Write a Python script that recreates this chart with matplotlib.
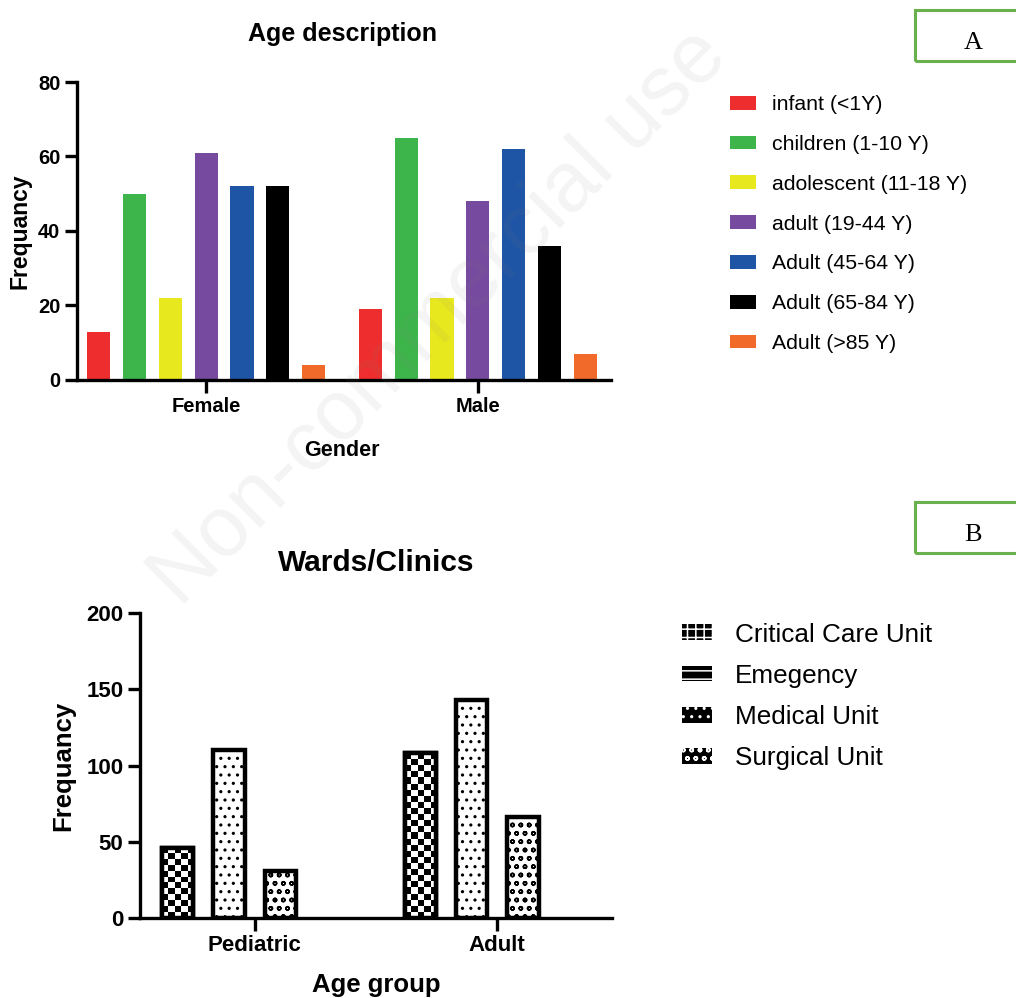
import matplotlib
import numpy as np

matplotlib.use("Agg")
import matplotlib.pyplot as plt  # noqa: E402
from matplotlib.patches import Patch, Rectangle  # noqa: E402

# Panel A: age description by gender
genders = ["Female", "Male"]
age_groups = [
    "infant (<1Y)",
    "children (1-10 Y)",
    "adolescent (11-18 Y)",
    "adult (19-44 Y)",
    "Adult (45-64 Y)",
    "Adult (65-84 Y)",
    "Adult (>85 Y)",
]
female_counts = [13, 50, 22, 61, 52, 52, 4]
male_counts = [19, 65, 22, 48, 62, 36, 7]
age_colors = ["#ee2e2e", "#3db54a", "#e8e81e", "#764a9e", "#1e55a5", "#000000", "#f26a2a"]

# Panel B: wards/clinics by age group
age_group_labels = ["Pediatric", "Adult"]
wards = ["Critical Care Unit", "Emegency", "Medical Unit", "Surgical Unit"]
pediatric_counts = [46, 0, 110, 31]
adult_counts = [108, 0, 143, 66]

FONT = "Liberation Sans"
plt.rcParams["font.family"] = [FONT, "DejaVu Sans"]
plt.rcParams["hatch.linewidth"] = 1.1

fig = plt.figure(figsize=(10.16, 9.98), dpi=100)
W, H = 1016, 998


def fx(px):
    return px / W


def fy(py):
    return 1 - py / H


def style_axes(ax, fs):
    for s in ("top", "right"):
        ax.spines[s].set_visible(False)
    for s in ("left", "bottom"):
        ax.spines[s].set_linewidth(2.4)
    ax.tick_params(axis="both", width=2.4, length=9, labelsize=fs, pad=3)
    for lab in ax.get_xticklabels() + ax.get_yticklabels():
        lab.set_fontweight("bold")


# ---------------- Panel A ----------------
axA = fig.add_axes([fx(77), fy(380), fx(611) - fx(77), fy(82) - fy(380)])
group_x = np.arange(len(genders))
step, width = 0.132, 0.085
for i, (lab, col) in enumerate(zip(age_groups, age_colors)):
    vals = [female_counts[i], male_counts[i]]
    axA.bar(group_x + (i - 3) * step, vals, width=width, color=col, label=lab, zorder=2)
axA.set_xlim(-0.475, 1.49)
axA.set_ylim(0, 80)
axA.set_yticks([0, 20, 40, 60, 80])
axA.set_xticks(group_x)
axA.set_xticklabels(genders)
axA.tick_params(axis="x", length=11, pad=8)
style_axes(axA, 14.5)
axA.set_ylabel("Frequancy", fontsize=16.5, fontweight="bold", labelpad=5)
fig.text(fx(342), fy(34), "Age description", ha="center", va="center",
         fontsize=18, fontweight="bold")
fig.text(fx(342), fy(450), "Gender", ha="center", va="center",
         fontsize=15.5, fontweight="bold")

fig.legend(*axA.get_legend_handles_labels(), loc="upper left",
           bbox_to_anchor=(fx(711), fy(76)), frameon=False, fontsize=15.3,
           handlelength=1.22, handleheight=0.62, handletextpad=0.76,
           labelspacing=0.98)

# ---------------- Panel B ----------------
axB = fig.add_axes([fx(140), fy(918), fx(612) - fx(140), fy(613) - fy(918)])
slot = {"Critical Care Unit": 0, "Medical Unit": 1, "Surgical Unit": 2, "Emegency": 3}
hatches = {"Critical Care Unit": None, "Emegency": "--", "Medical Unit": "..",
           "Surgical Unit": "oo"}
stepB, widthB = 0.212, 0.128
gx = np.arange(len(age_group_labels))
for j, ward in enumerate(wards):
    vals = [pediatric_counts[j], adult_counts[j]]
    xs = gx + (slot[ward] - 1.5) * stepB
    for x, v in zip(xs, vals):
        if v == 0:
            continue
        bar = axB.bar(x, v, width=widthB, facecolor="white", edgecolor="black",
                      linewidth=3.2, hatch=hatches[ward], zorder=2)[0]
        if ward == "Critical Care Unit":
            # checkerboard fill, clipped to the bar
            ncol = 5
            nrow = max(1, int(round(v / 4.0)))
            checker = (np.indices((nrow, ncol)).sum(axis=0) % 2).astype(float)
            img = axB.imshow(checker, cmap="gray", interpolation="nearest",
                             extent=(x - widthB / 2, x + widthB / 2, 0, v),
                             aspect="auto", zorder=2.5)
            img.set_clip_path(bar)
            axB.add_patch(Rectangle((x - widthB / 2, 0), widthB, v, fill=False,
                                    edgecolor="black", linewidth=3.2, zorder=3))
axB.set_aspect("auto")
axB.set_xlim(-0.473, 1.473)
axB.set_ylim(0, 200)
axB.set_yticks([0, 50, 100, 150, 200])
axB.set_xticks(gx)
axB.set_xticklabels(age_group_labels)
axB.tick_params(axis="x", length=11, pad=8)
style_axes(axB, 16)
axB.set_ylabel("Frequancy", fontsize=18.5, fontweight="bold", labelpad=8)
fig.text(fx(376), fy(563), "Wards/Clinics", ha="center", va="center",
         fontsize=21.5, fontweight="bold")
fig.text(fx(376), fy(985), "Age group", ha="center", va="center",
         fontsize=18.5, fontweight="bold")

legB_handles = [
    Patch(facecolor="black", edgecolor="white", linewidth=0,
          hatch={"Critical Care Unit": "++", "Emegency": "--", "Medical Unit": "..",
                 "Surgical Unit": "oo"}[w])
    for w in wards
]
fig.legend(legB_handles, wards, loc="upper left", bbox_to_anchor=(fx(658), fy(599)),
           frameon=False, fontsize=18.8, handlelength=1.15, handleheight=0.54,
           handletextpad=0.88, labelspacing=0.66)

# ---------------- Panel labels ----------------
for label, top in (("A", 10), ("B", 502)):
    fig.patches.append(Rectangle((fx(915), fy(top + 51)), fx(200), 51 / H,
                                 transform=fig.transFigure, fill=False,
                                 edgecolor="#6ab04c", linewidth=2.2))
    fig.text(fx(973), fy(top + 33), label, ha="center", va="center",
             fontsize=19, family="Liberation Serif")

# watermark
fig.text(fx(440), fy(318), "Non-commercial use", ha="center", va="center",
         rotation=45, fontsize=61, color="gray", alpha=0.09, zorder=10)

fig.savefig("out.png", dpi=100)
